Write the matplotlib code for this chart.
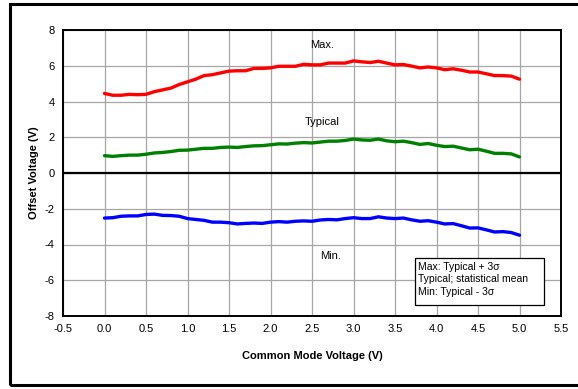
import numpy as np
import matplotlib.pyplot as plt
from matplotlib.patches import Rectangle

plt.rcParams['font.family'] = ['Liberation Sans', 'DejaVu Sans']

# common mode voltage (V)
vcm = [0.0, 0.1, 0.2, 0.3, 0.4, 0.5, 0.6, 0.7, 0.8, 0.9,
       1.0, 1.1, 1.2, 1.3, 1.4, 1.5, 1.6, 1.7, 1.8, 1.9,
       2.0, 2.1, 2.2, 2.3, 2.4, 2.5, 2.6, 2.7, 2.8, 2.9,
       3.0, 3.1, 3.2, 3.3, 3.4, 3.5, 3.6, 3.7, 3.8, 3.9,
       4.0, 4.1, 4.2, 4.3, 4.4, 4.5, 4.6, 4.7, 4.8, 4.9, 5.0]

# offset voltage, max / typical / min
v_max = [4.45, 4.35, 4.35, 4.40, 4.38, 4.40, 4.55, 4.65, 4.75, 4.95,
         5.10, 5.25, 5.45, 5.50, 5.60, 5.70, 5.72, 5.72, 5.85, 5.85,
         5.88, 5.97, 5.97, 5.97, 6.08, 6.05, 6.05, 6.15, 6.15, 6.15,
         6.27, 6.22, 6.18, 6.25, 6.15, 6.05, 6.07, 5.98, 5.88, 5.93,
         5.88, 5.78, 5.83, 5.75, 5.65, 5.65, 5.55, 5.45, 5.45, 5.42, 5.25]

v_typ = [0.97, 0.93, 0.97, 1.00, 1.00, 1.05, 1.12, 1.15, 1.20, 1.27,
         1.28, 1.33, 1.38, 1.38, 1.43, 1.45, 1.43, 1.48, 1.52, 1.53,
         1.58, 1.63, 1.62, 1.67, 1.70, 1.68, 1.73, 1.78, 1.78, 1.82,
         1.90, 1.85, 1.83, 1.90, 1.80, 1.75, 1.78, 1.70, 1.60, 1.65,
         1.55, 1.48, 1.50, 1.40, 1.30, 1.33, 1.22, 1.10, 1.10, 1.07, 0.90]

v_min = [-2.52, -2.50, -2.42, -2.40, -2.40, -2.32, -2.30, -2.37, -2.38, -2.42,
         -2.55, -2.60, -2.65, -2.75, -2.75, -2.78, -2.85, -2.82, -2.80, -2.82,
         -2.75, -2.72, -2.75, -2.70, -2.68, -2.70, -2.63, -2.60, -2.62, -2.55,
         -2.50, -2.55, -2.55, -2.45, -2.52, -2.55, -2.52, -2.62, -2.70, -2.67,
         -2.75, -2.85, -2.83, -2.95, -3.08, -3.07, -3.18, -3.30, -3.28, -3.33, -3.48]

fig = plt.figure(figsize=(5.78, 3.89), dpi=100)
ax = fig.add_axes([63 / 578, 1 - 316 / 389, 498 / 578, 286 / 389])

# outer frame around the whole chart
fig.patches.append(Rectangle((10 / 578, 4 / 389), 1.0, 381 / 389, transform=fig.transFigure,
                             fill=False, edgecolor='black', linewidth=2.2))

ax.plot(vcm, v_max, color='#ff0000', linewidth=2.4, solid_capstyle='round')
ax.plot(vcm, v_typ, color='#008000', linewidth=2.4, solid_capstyle='round')
ax.plot(vcm, v_min, color='#0000ff', linewidth=2.4, solid_capstyle='round')

ax.axhline(0, color='black', linewidth=1.6, zorder=1)

ax.set_xlim(-0.5, 5.5)
ax.set_ylim(-8, 8)
ax.set_xticks(np.arange(-0.5, 5.51, 0.5))
ax.set_yticks(np.arange(-8, 8.1, 2))
ax.set_xticklabels([f'{t:.1f}' for t in np.arange(-0.5, 5.51, 0.5)])
ax.set_yticklabels([f'{t:d}' for t in range(-8, 9, 2)])
ax.tick_params(length=0, labelsize=8, pad=6)
ax.grid(True, color='#a6a6a6', linewidth=0.9)
ax.set_axisbelow(True)
for s in ax.spines.values():
    s.set_linewidth(1.4)

ax.set_xlabel('Common Mode Voltage (V)', fontsize=8, fontweight='bold', labelpad=12)
ax.set_ylabel('Offset Voltage (V)', fontsize=8, fontweight='bold', labelpad=4)

ax.text(2.62, 7.15, 'Max.', fontsize=8, ha='center', va='center')
ax.text(2.62, 2.85, 'Typical', fontsize=8, ha='center', va='center')
ax.text(2.72, -4.65, 'Min.', fontsize=8, ha='center', va='center')

# note box
ax.add_patch(Rectangle((3.74, -7.37), 1.55, 2.62, facecolor='white',
                       edgecolor='black', linewidth=0.9, zorder=3))
ax.text(3.78, -4.97,
        'Max: Typical + 3\u03c3\nTypical; statistical mean\nMin: Typical - 3\u03c3',
        fontsize=7.5, ha='left', va='top', linespacing=1.33, zorder=4)

fig.savefig('out.png', dpi=100)
